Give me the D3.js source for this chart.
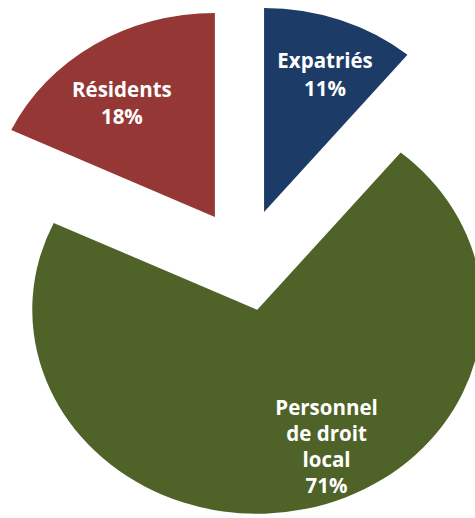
<!DOCTYPE html>
<html><head><meta charset="utf-8">
<script src="https://cdn.jsdelivr.net/npm/d3@7"></script>
<style>html,body{margin:0;padding:0;background:#fff;}svg{display:block;}</style>
</head><body>
<script>
const categories = ["Expatriés", "Personnel de droit local", "Résidents"];
const labelLines = [["Expatriés"], ["Personnel", "de droit", "local"], ["Résidents"]];
const values = [11, 71, 18];
const colors = ["#1D3B67", "#4F6228", "#953735"];

const W = 475, H = 518;
const cx = 245, cy = 260, R = 204, sx = 1.103, explode = 51;
const labelR = [0.724, 0.74, 0.693];
const labelAngleShift = [2.2, -12, -4.2];
const lineH = [28, 26, 27];

const svg = d3.select("body").append("svg").attr("width", W).attr("height", H);
const pie = d3.pie().sort(null).value(d => d)(values);
const arc = d3.arc().innerRadius(0).outerRadius(R);

pie.forEach((p, i) => {
  const mid = (p.startAngle + p.endAngle) / 2;
  const ox = cx + sx * Math.sin(mid) * explode;
  const oy = cy - Math.cos(mid) * explode;
  svg.append("path")
    .attr("transform", `translate(${ox},${oy}) scale(${sx},1)`)
    .attr("d", arc(p))
    .attr("fill", colors[i]);
  const la = mid + labelAngleShift[i] * Math.PI / 180;
  const lx = ox + sx * Math.sin(la) * R * labelR[i];
  const ly = oy - Math.cos(la) * R * labelR[i];
  const lines = labelLines[i].concat([values[i] + "%"]);
  const lh = lineH[i];
  const t = svg.append("text")
    .attr("x", lx).attr("y", ly)
    .attr("text-anchor", "middle")
    .attr("fill", "#ffffff")
    .attr("font-family", "'Open Sans', sans-serif")
    .attr("font-weight", "bold")
    .attr("font-size", 20.5);
  lines.forEach((s, j) => {
    t.append("tspan").attr("x", lx)
      .attr("y", ly + (j - (lines.length - 1) / 2) * lh + 7)
      .text(s);
  });
});
</script>
</body></html>
